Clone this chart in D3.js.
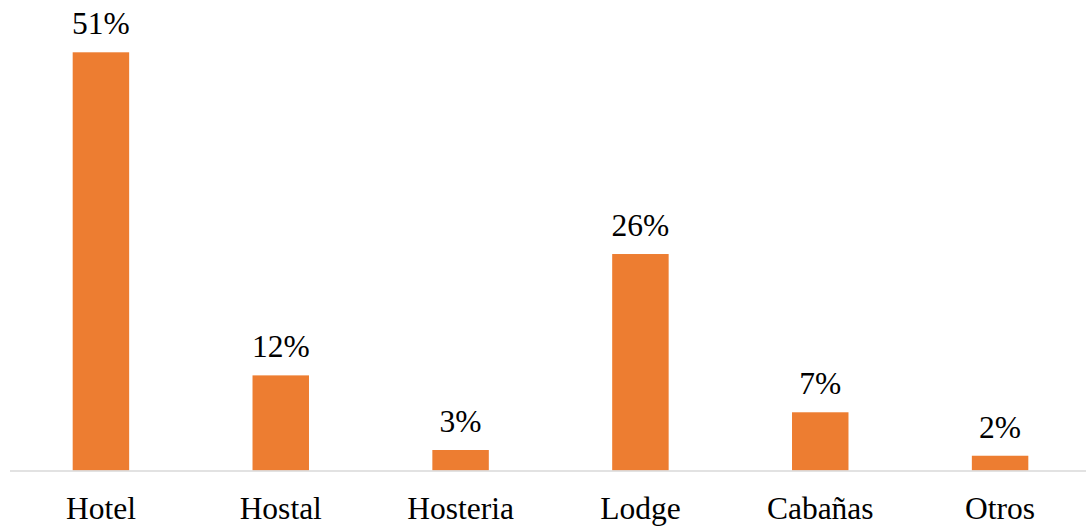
<!DOCTYPE html>
<html>
<head>
<meta charset="utf-8">
<script src="https://cdn.jsdelivr.net/npm/d3@7"></script>
<style>
  body { margin: 0; background: #fff; }
</style>
</head>
<body>
<div id="chart"></div>
<script>
// Chart data
const categories = ['Hotel', 'Hostal', 'Hosteria', 'Lodge', 'Cabañas', 'Otros'];
const values = [51.0, 11.6, 2.5, 26.4, 7.1, 1.8];

const WIDTH = 1086;
const HEIGHT = 526;
const BASELINE = 470.5;
const BAR_COLOR = '#ED7D31';
const FONT = "'Times New Roman', 'Liberation Serif', 'DejaVu Serif', serif";
const FONT_SIZE = 31.5;

const svg = d3.select('#chart').append('svg')
  .attr('width', WIDTH)
  .attr('height', HEIGHT)
  .style('font-family', FONT);

// x scale for categories
const xScale = d3.scaleBand()
  .domain(categories)
  .range([11, 1090])
  .paddingInner(0.686)
  .paddingOuter(0.343);

// y scale for percentages
const yScale = d3.scaleLinear()
  .domain([0, 55])
  .range([BASELINE, BASELINE - 55 * 8.2]);

// Bars
svg.append('g')
  .selectAll('rect')
  .data(values)
  .enter()
  .append('rect')
  .attr('x', (d, i) => xScale(categories[i]))
  .attr('y', d => yScale(d))
  .attr('width', xScale.bandwidth())
  .attr('height', d => BASELINE - yScale(d))
  .attr('fill', BAR_COLOR);

// Value labels
svg.append('g')
  .selectAll('text')
  .data(values)
  .enter()
  .append('text')
  .attr('x', (d, i) => xScale(categories[i]) + xScale.bandwidth() / 2)
  .attr('y', d => yScale(d) - 18)
  .attr('text-anchor', 'middle')
  .attr('font-family', FONT)
  .attr('font-size', FONT_SIZE)
  .attr('fill', '#000')
  .text(d => Math.round(d) + '%');

// Axis line
svg.append('line')
  .attr('x1', 10)
  .attr('x2', WIDTH)
  .attr('y1', BASELINE + 0.5)
  .attr('y2', BASELINE + 0.5)
  .attr('stroke', '#d9d9d9')
  .attr('stroke-width', 1.5);

// Category labels
svg.append('g')
  .selectAll('text')
  .data(categories)
  .enter()
  .append('text')
  .attr('x', d => xScale(d) + xScale.bandwidth() / 2)
  .attr('y', 519)
  .attr('text-anchor', 'middle')
  .attr('font-family', FONT)
  .attr('font-size', FONT_SIZE)
  .attr('fill', '#000')
  .text(d => d);
</script>
</body>
</html>
